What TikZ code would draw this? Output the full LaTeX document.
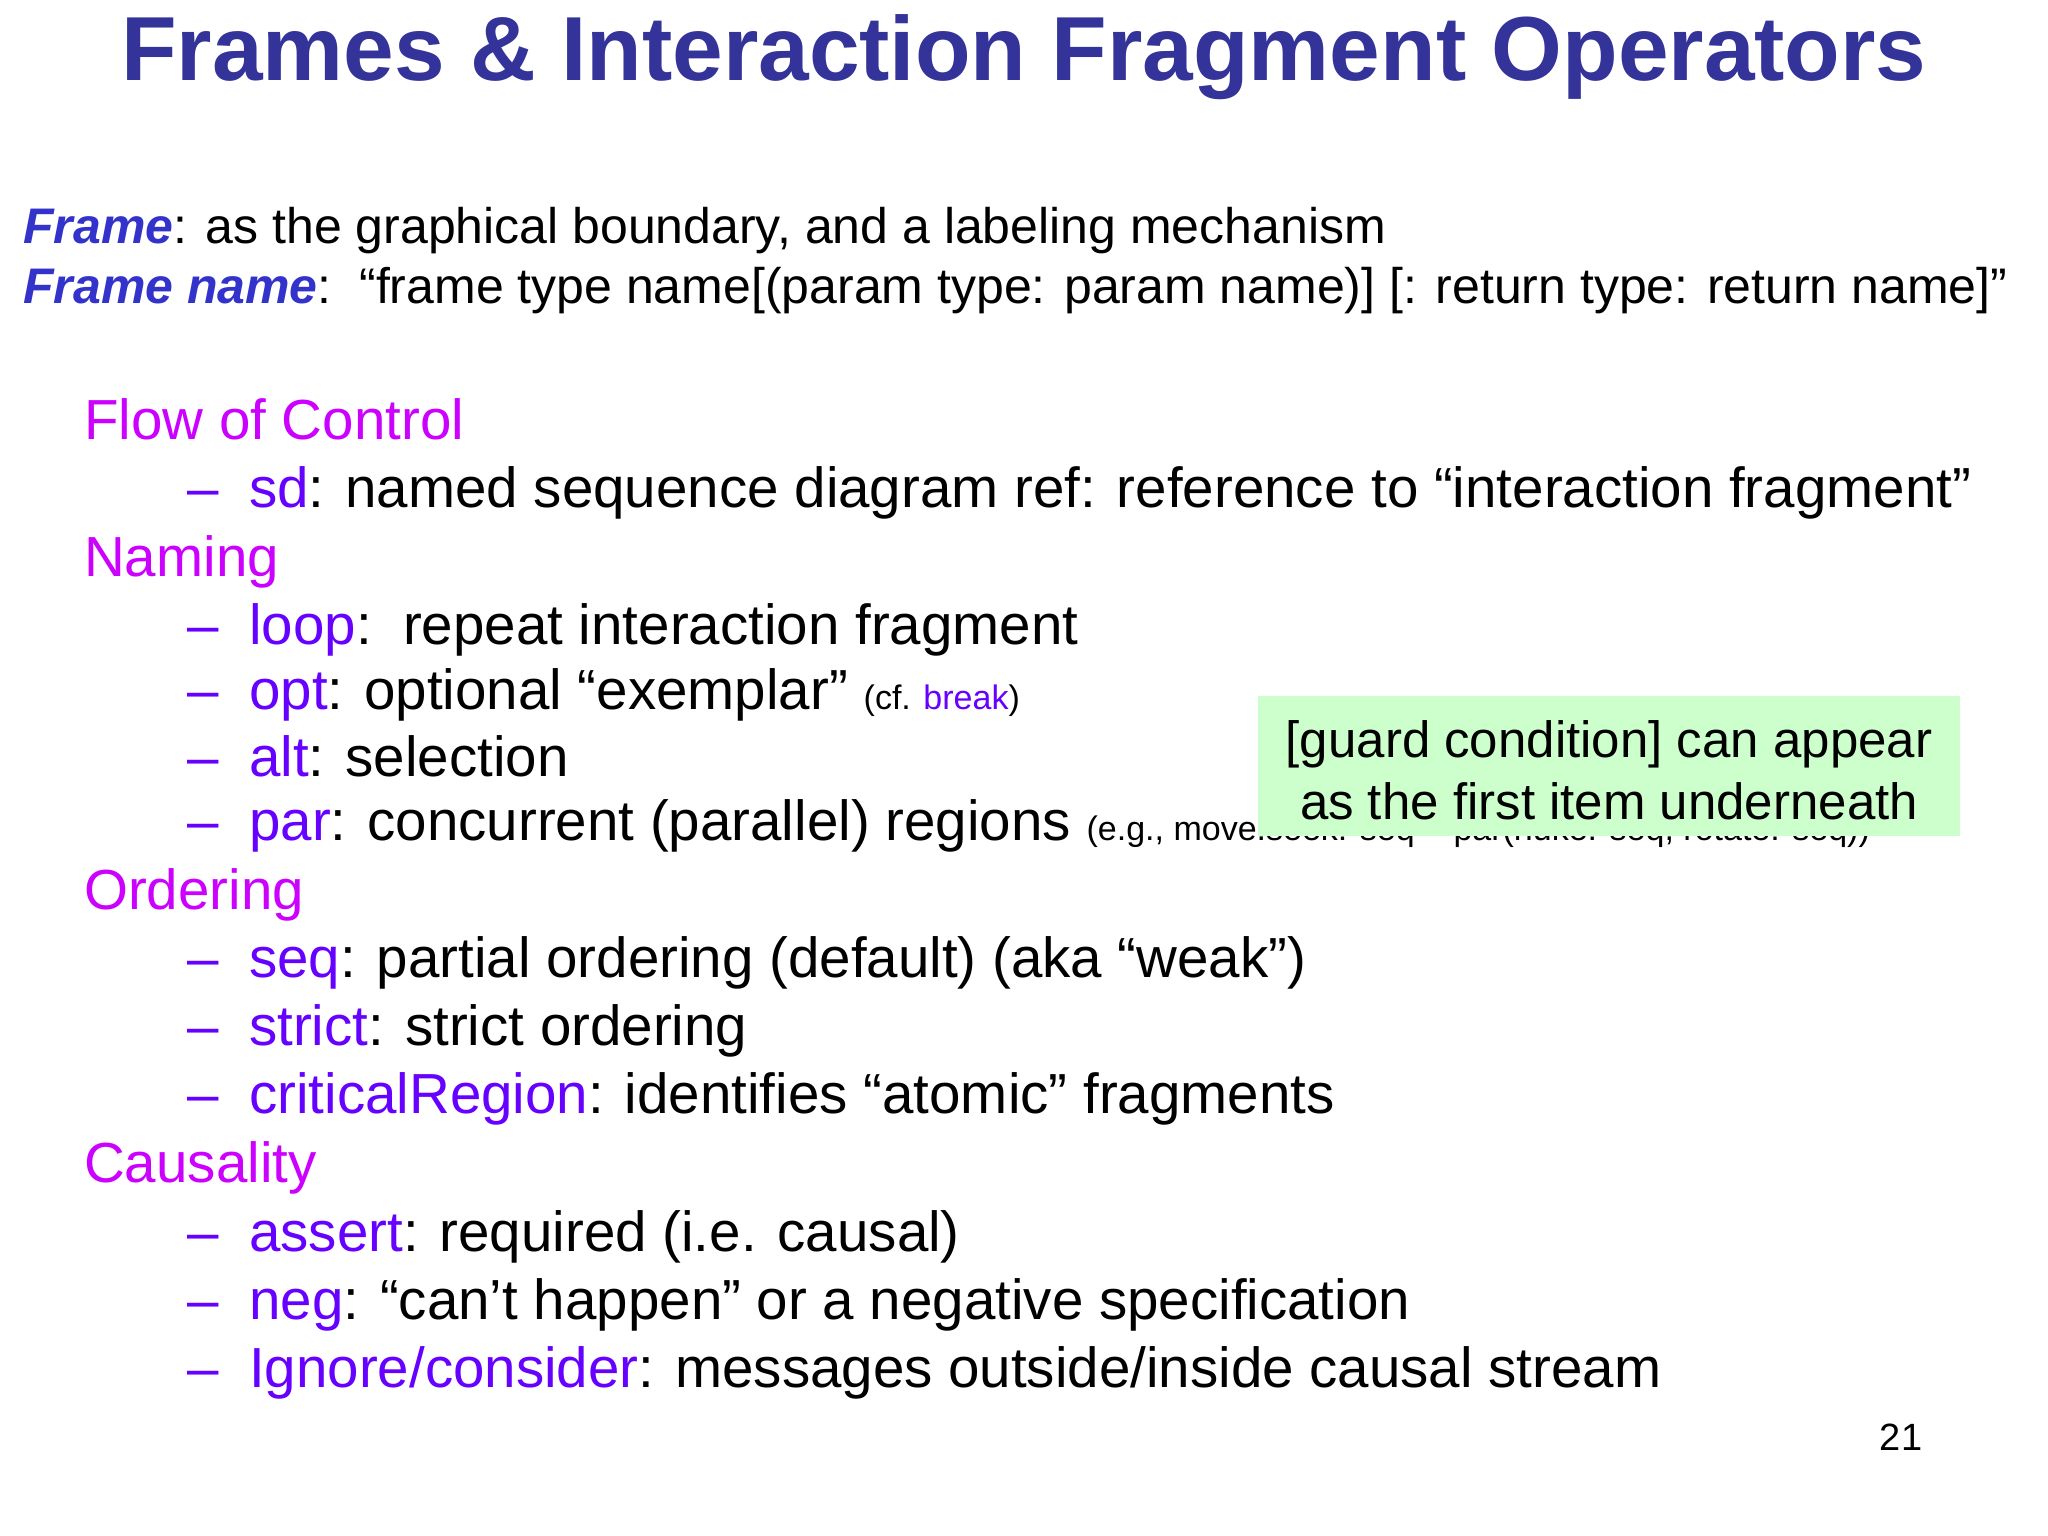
\documentclass[tikz,border=0pt]{standalone}
\usepackage{fontspec}
\setmainfont{Liberation Sans}
\definecolor{ttl}{RGB}{51,51,153}
\definecolor{head}{RGB}{204,0,255}
\definecolor{kw}{RGB}{102,0,255}
\definecolor{frm}{RGB}{51,51,204}
\definecolor{grn}{RGB}{204,255,204}
\newcommand{\kwd}[1]{\textcolor{kw}{#1}}
\begin{document}
\begin{tikzpicture}[x=1pt,y=-1pt,
  txt/.style={anchor=base west,inner sep=0pt,font=\fontsize{56.5}{64}\selectfont},
  hd/.style={txt,text=head},
  it/.style={txt},
  dsh/.style={txt,text=kw}]
\useasboundingbox[fill=white] (0,0) rectangle (2048,1536);
\node[anchor=base,inner sep=0pt,text=ttl,font=\fontsize{91}{96}\selectfont\bfseries] (title) at (1024,81) {Frames \& Interaction Fragment Operators};
\node[txt,font=\fontsize{50}{56}\selectfont] (f1) at (23,243) {\textcolor{frm}{\bfseries\itshape Frame}: as the graphical boundary, and a labeling mechanism};
\node[txt,font=\fontsize{50}{56}\selectfont] (f2) at (23,303) {\textcolor{frm}{\bfseries\itshape Frame name}:\ \ “frame type name[(param type: param name)] [: return type: return name]”};
\def\dx{187}\def\tx{249}
\node[hd] (h1) at (84,439) {Flow of Control};
\node[dsh] (d1) at (\dx,507) {–}; \node[it] (i1) at (\tx,507) {\kwd{sd}: named sequence diagram ref: reference to “interaction fragment”};
\node[hd] (h2) at (84,576) {Naming};
\node[dsh] (d2) at (\dx,644) {–}; \node[it] (i2) at (\tx,644) {\kwd{loop}:\ \ repeat interaction fragment};
\node[dsh] (d3) at (\dx,709) {–}; \node[it] (i3) at (\tx,709) {\kwd{opt}: optional “exemplar” {\fontsize{34}{38}\selectfont (cf. \kwd{break})}};
\node[dsh] (d4) at (\dx,776) {–}; \node[it] (i4) at (\tx,776) {\kwd{alt}: selection};
\node[dsh] (d5) at (\dx,840) {–}; \node[it] (i5) at (\tx,840) {\kwd{par}: concurrent (parallel) regions {\fontsize{34}{38}\selectfont (e.g., move.seek: seq = par(nuke: seq, rotate: seq))}};
\node[hd] (h3) at (84,909) {Ordering};
\node[dsh] (d6) at (\dx,977) {–}; \node[it] (i6) at (\tx,977) {\kwd{seq}: partial ordering (default) (aka “weak”)};
\node[dsh] (d7) at (\dx,1045) {–}; \node[it] (i7) at (\tx,1045) {\kwd{strict}: strict ordering};
\node[dsh] (d8) at (\dx,1113) {–}; \node[it] (i8) at (\tx,1113) {\kwd{criticalRegion}: identifies “atomic” fragments};
\node[hd] (h4) at (84,1182) {Causality};
\node[dsh] (d9) at (\dx,1251) {–}; \node[it] (i9) at (\tx,1251) {\kwd{assert}: required (i.e. causal)};
\node[dsh] (d10) at (\dx,1319) {–}; \node[it] (i10) at (\tx,1319) {\kwd{neg}: “can’t happen” or a negative specification};
\node[dsh] (d11) at (\dx,1387) {–}; \node[it] (i11) at (\tx,1387) {\kwd{Ignore/consider}: messages outside/inside causal stream};
\fill[grn] (1258,696) rectangle (1960,836);
\node[align=center,inner sep=0pt,font=\fontsize{51}{62}\selectfont] (g) at (1609,770) {[guard condition] can appear\\as the first item underneath};
\node[anchor=base,inner sep=0pt,font=\fontsize{38}{44}\selectfont] (pn) at (1901,1450) {21};
\end{tikzpicture}
\end{document}
